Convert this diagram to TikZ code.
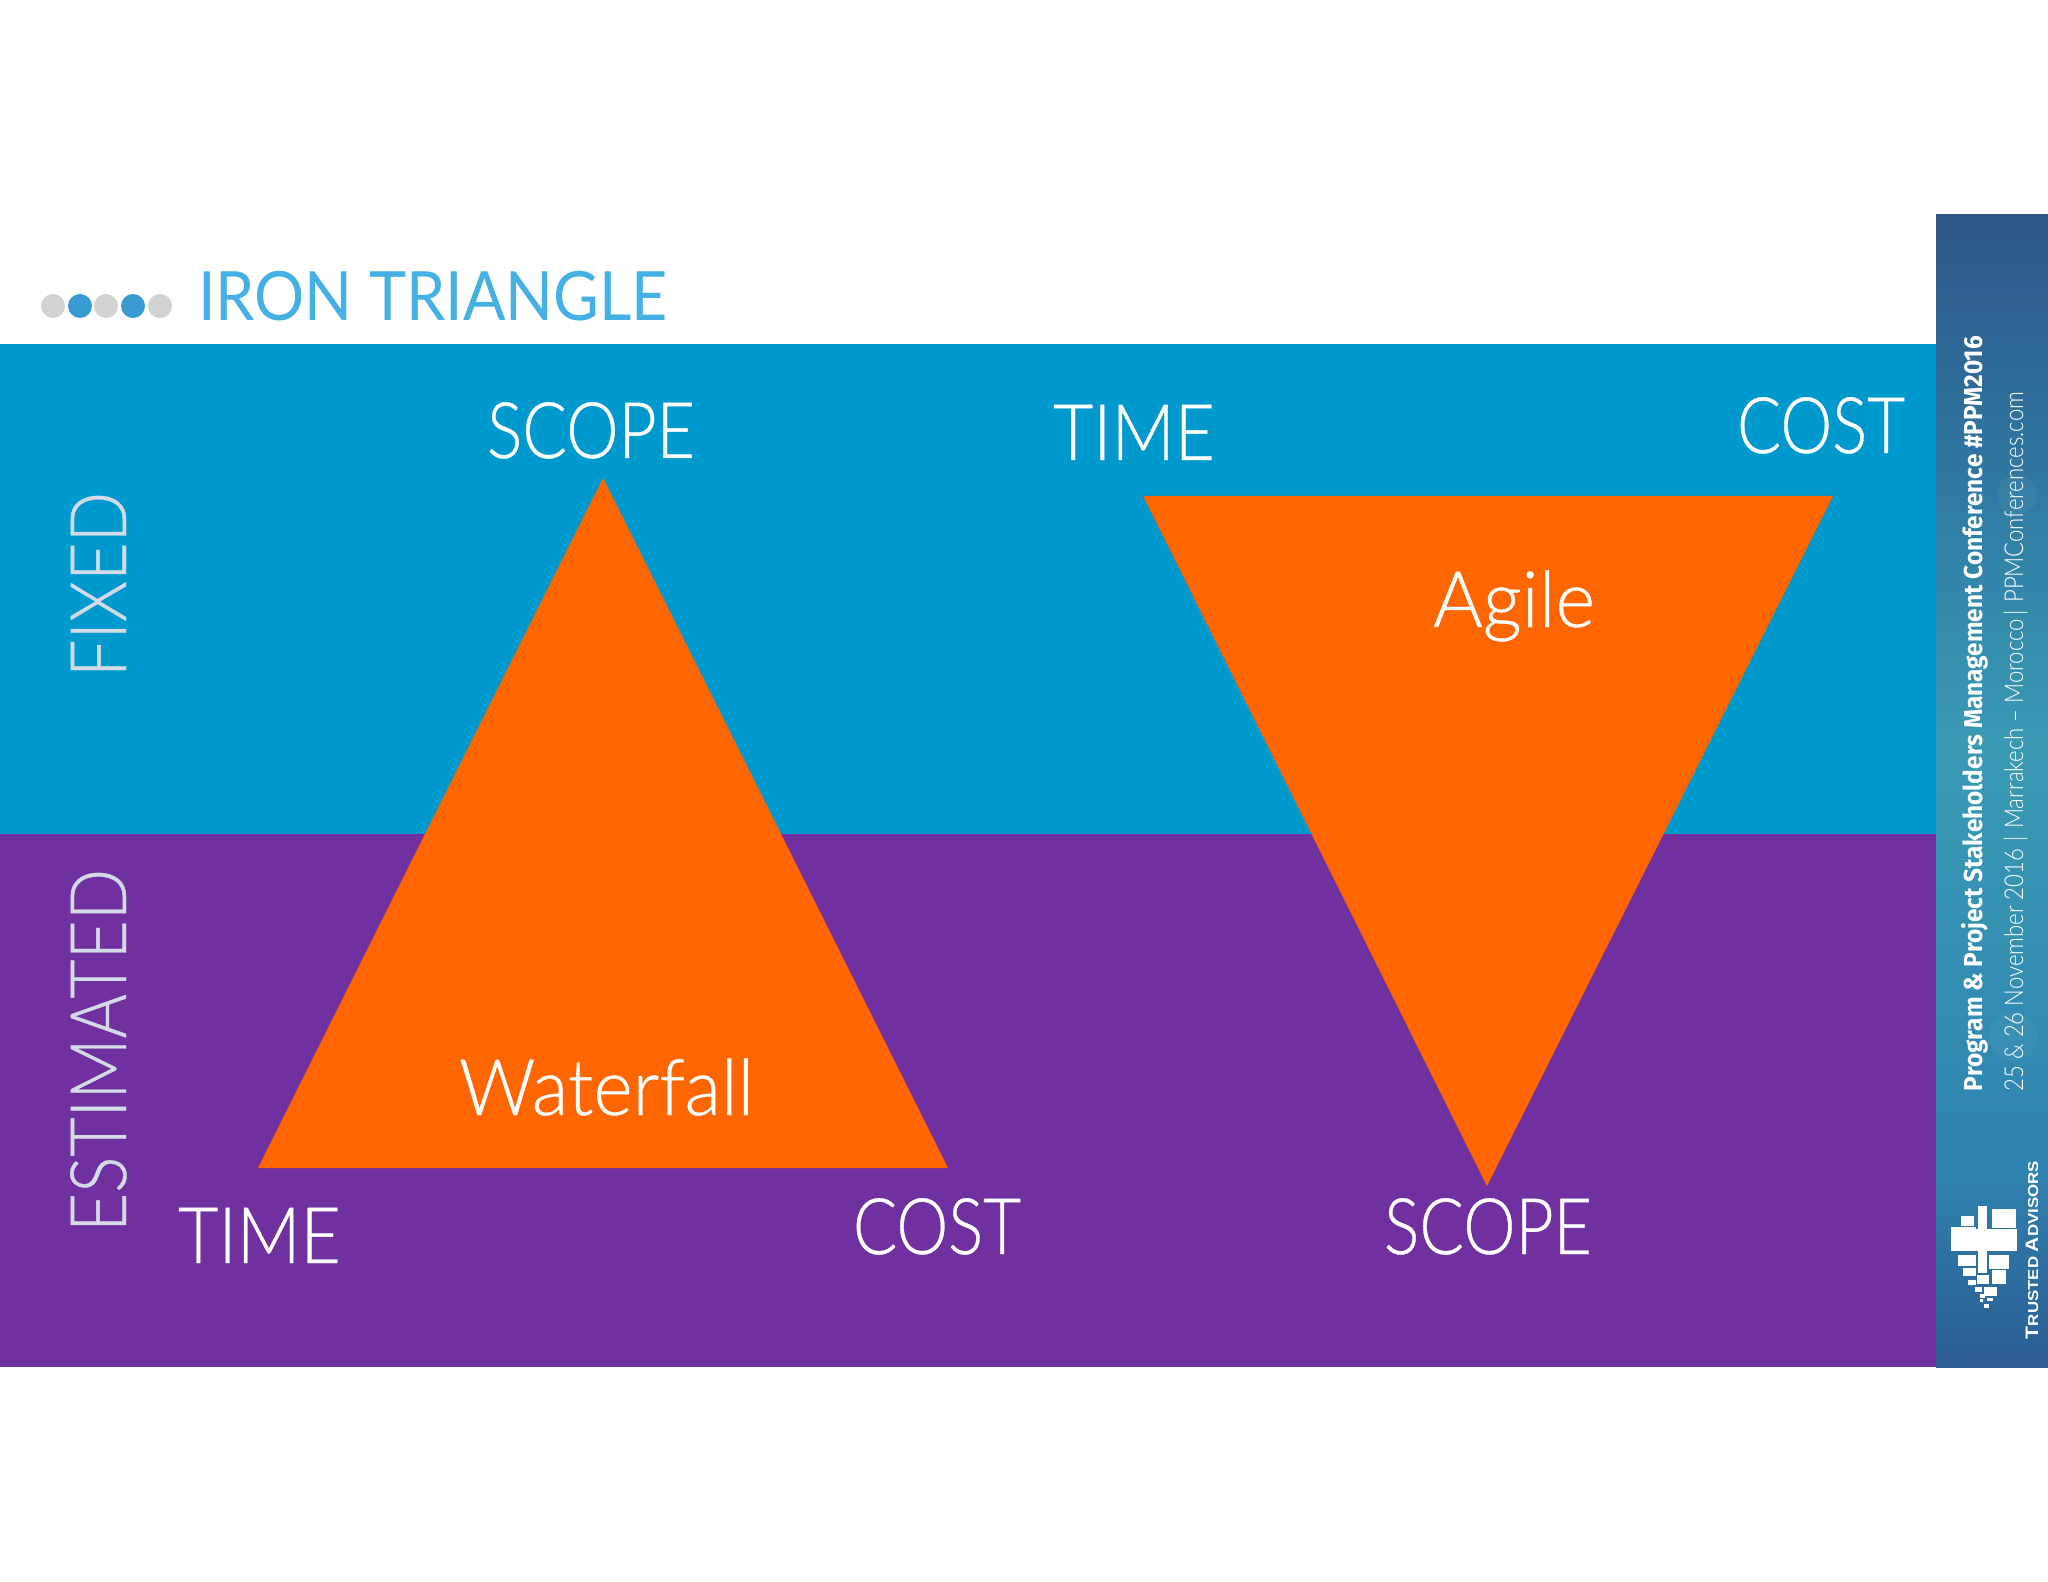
\documentclass[tikz,border=0pt]{standalone}
\usepackage{fontspec}
\usepackage{graphicx}
\setmainfont{Lato Light}
\newfontfamily\lblfont[FakeBold=0.5]{Lato Light}
\newfontfamily\titlefont{Lato}
\newfontfamily\boldside{Fira Sans Bold}
\newfontfamily\thinside{Lato Light}
\newfontfamily\logofont{Liberation Sans Bold}
\newlength\fitlen
\newcommand\fitw[2]{\settowidth\fitlen{#2}\pgfmathsetmacro\fitr{#1*0.5*1pt/\fitlen}\scalebox{\fitr}[1]{#2}}
\definecolor{blueband}{HTML}{0099CE}
\definecolor{purpleband}{HTML}{7030A0}
\definecolor{tri}{HTML}{FF6600}
\definecolor{titleblue}{HTML}{45B0E3}
\definecolor{dotgrey}{HTML}{D2D2D2}
\definecolor{dotblue}{HTML}{3A9BD2}
\definecolor{sideA}{HTML}{2F5687}
\definecolor{sideB}{HTML}{2F7AA4}
\definecolor{sideC}{HTML}{3A9AB4}
\definecolor{sideD}{HTML}{2F84B0}
\definecolor{sideE}{HTML}{2C5C92}
\definecolor{greylabel}{HTML}{D3DCE6}
\pgfdeclareverticalshading{sidebar}{100bp}{color(0bp)=(sideE); color(25bp)=(sideE); color(34bp)=(sideD); color(52bp)=(sideC); color(63bp)=(sideB); color(75bp)=(sideA); color(100bp)=(sideA)}
\tikzset{
  lbl/.style={anchor=base west,inner sep=0pt,outer sep=0pt,text=white,font=\lblfont\fontsize{39}{39}\selectfont},
  side/.style={lbl,text=greylabel,rotate=90},
  dotc/.style={circle,inner sep=0pt,minimum size=12pt},
  sidetext/.style={anchor=base west,inner sep=0pt,outer sep=0pt,text=white,rotate=90},
  logo/.style={fill=white},
  bokeh/.style={fill=white,fill opacity=0.04}
}
\begin{document}
\begin{tikzpicture}[x=0.5pt,y=-0.5pt]
\useasboundingbox (0,0) rectangle (2048,1582);
\fill[white] (0,0) rectangle (2048,1582);
\fill[blueband] (0,344) rectangle (1936,834);
\fill[purpleband] (0,834) rectangle (1936,1367);
\shade[shading=sidebar] (1936,215) rectangle (2048,1367);
\fill[bokeh] (2017,495) circle (10pt);
\fill[bokeh] (2013,1037) circle (12pt);
\fill[tri] (603,478) -- (948,1168) -- (258,1168) -- cycle;
\fill[tri] (1143,496) -- (1833,496) -- (1487,1186) -- cycle;
% bullets
\node[dotc,fill=dotgrey] (d1) at (53,306) {};
\node[dotc,fill=dotblue] (d2) at (80,306) {};
\node[dotc,fill=dotgrey] (d3) at (106,306) {};
\node[dotc,fill=dotblue] (d4) at (133,306) {};
\node[dotc,fill=dotgrey] (d5) at (160,306) {};
\node[lbl,text=titleblue,font=\titlefont\fontsize{34}{34}\selectfont] (title) at (198,321) {\fitw{470}{IRON TRIANGLE}};
% labels
\node[lbl] (s1) at (487,458) {\fitw{208}{SCOPE}};
\node[lbl] (t1) at (1053,460) {\fitw{162}{TIME}};
\node[lbl] (c1) at (1737,453) {\fitw{168}{COST}};
\node[lbl] (ag) at (1433,627) {\fitw{162}{Agile}};
\node[lbl] (wf) at (459,1115) {\fitw{295}{Waterfall}};
\node[lbl] (t2) at (178,1263) {\fitw{163}{TIME}};
\node[lbl] (c2) at (853,1254) {\fitw{168}{COST}};
\node[lbl] (s2) at (1384,1254) {\fitw{208}{SCOPE}};
\node[side] (fx) at (126,677) {\fitw{185}{FIXED}};
\node[side] (es) at (126,1232) {\fitw{363}{ESTIMATED}};
% sidebar text
\node[sidetext,font=\boldside\fontsize{13}{13}\selectfont] (p1) at (1982,1091) {\fitw{755}{Program \& Project Stakeholders Management Conference \#PPM2016}};
\node[sidetext,font=\thinside\fontsize{13}{13}\selectfont] (p2) at (2023,1091) {\fitw{699}{25 \& 26 November 2016\,\,|\,\,Marrakech – Morocco\,|\,\,PPMConferences.com}};
\node[sidetext,font=\logofont\fontsize{9}{9}\selectfont] (p3) at (2038,1339) {\fitw{178}{T\fontsize{7.2}{7.2}\selectfont RUSTED \fontsize{9}{9}\selectfont A\fontsize{7.2}{7.2}\selectfont DVISORS}};
% logo
\begin{scope}[shift={(1900,800)},x=0.16667pt,y=-0.19135pt]
\foreach \a/\b/\c/\d in {233/1062/262/1236,275/1070/348/1118,153/1117/228/1178,228/1120/352/1178,183/1088/222/1112,175/1188/228/1218,267/1188/326/1226,190/1224/228/1245,275/1228/318/1265,232/1240/268/1265,205/1254/228/1268,225/1272/247/1285,252/1272/290/1297,240/1290/255/1300,262/1300/278/1310,252/1318/268/1328,240/1305/250/1313}
  \fill[logo] (\a,\b) rectangle (\c,\d);
\end{scope}
\end{tikzpicture}
\end{document}
